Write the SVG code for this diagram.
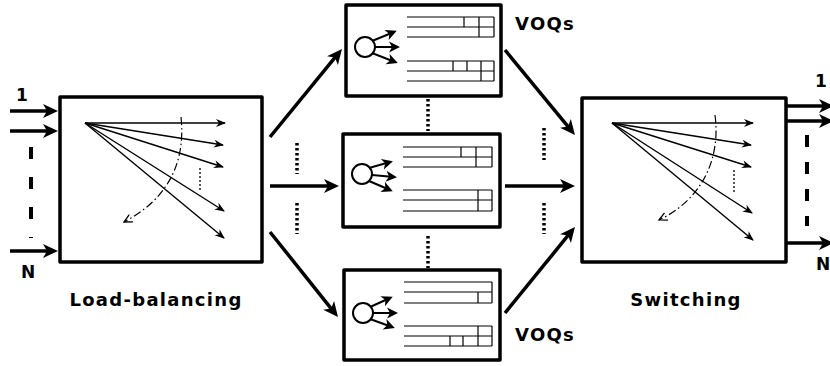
<svg xmlns="http://www.w3.org/2000/svg" width="830" height="366" viewBox="0 0 830 366">
  <style>
    .box { fill: #fff; stroke: #000; stroke-width: 3.5; stroke-linejoin: round; }
    .link { fill: none; stroke: #000; stroke-width: 3.5; }
    .thin { fill: none; stroke: #000; stroke-width: 1.4; }
    .src { fill: none; stroke: #000; stroke-width: 2; }
    .q { fill: none; stroke: #000; stroke-width: 1.2; }
    .dots { fill: none; stroke: #000; stroke-width: 3.5; stroke-dasharray: 2.5 2.5; }
    .dash { fill: none; stroke: #000; stroke-width: 4; }
    .arc { fill: none; stroke: #000; stroke-width: 1.2; stroke-dasharray: 8 3 1.5 3; }
    .fine { fill: none; stroke: #000; stroke-width: 1.3; stroke-dasharray: 2 2; }
    .lbl { font-family: "DejaVu Sans", "Liberation Sans", sans-serif; font-weight: bold; font-size: 18px; letter-spacing: 1.3px; fill: #000; }
    .idx { font-family: "DejaVu Sans", "Liberation Sans", sans-serif; font-weight: bold; font-size: 17px; fill: #000; }
  </style>
  <defs>
    <marker id="big" markerUnits="userSpaceOnUse" markerWidth="30" markerHeight="30" viewBox="-15 -15 30 30" refX="0" refY="0" orient="auto" overflow="visible">
      <path d="M8,0 L-7,-7 L-3,0 L-7,7 Z" fill="#000"/>
    </marker>
    <marker id="small" markerUnits="userSpaceOnUse" markerWidth="20" markerHeight="20" viewBox="-10 -10 20 20" refX="0" refY="0" orient="auto" overflow="visible">
      <path d="M1,0 L-9,-4 L-6,0 L-9,4 Z" fill="#000"/>
    </marker>
    <marker id="open" markerUnits="userSpaceOnUse" markerWidth="20" markerHeight="20" viewBox="-10 -10 20 20" refX="0" refY="0" orient="auto" overflow="visible">
      <path d="M-8,-4 L0,0 L-8,4" fill="none" stroke="#000" stroke-width="1.3"/>
    </marker>
    <marker id="emit" markerUnits="userSpaceOnUse" markerWidth="20" markerHeight="20" viewBox="-10 -10 20 20" refX="0" refY="0" orient="auto" overflow="visible">
      <path d="M3,0 L-8,-5.5 L-5,0 L-8,5.5 Z" fill="#000"/>
    </marker>
  </defs>

  <!-- load-balancing stage -->
  <g id="loadbalancer">
    <rect class="box" x="60" y="97" width="202" height="165"/>
    <g class="thin" marker-end="url(#small)">
      <line x1="85" y1="123" x2="225" y2="123"/>
      <line x1="85" y1="123" x2="223" y2="145"/>
      <line x1="85" y1="123" x2="223" y2="167"/>
      <line x1="85" y1="123" x2="224" y2="211"/>
      <line x1="85" y1="123" x2="224" y2="238"/>
    </g>
    <path class="arc" d="M181,117 C186,165 166,200 124,222" marker-end="url(#open)"/>
    <line class="fine" x1="200" y1="168" x2="200" y2="192"/>
    <text class="lbl" x="156" y="306" text-anchor="middle">Load-balancing</text>
  </g>

  <!-- inputs -->
  <g id="inputs">
    <g class="link" marker-end="url(#big)">
      <line x1="10" y1="111" x2="50" y2="111"/>
      <line x1="10" y1="131" x2="50" y2="131"/>
      <line x1="10" y1="251" x2="50" y2="251"/>
    </g>
    <line class="dash" x1="31" y1="147" x2="31" y2="238" stroke-dasharray="12 18"/>
    <text class="idx" x="22" y="101" text-anchor="middle">1</text>
    <text class="idx" x="28" y="278" text-anchor="middle">N</text>
  </g>

  <!-- VOQ buffer 1 -->
  <g id="voq1">
    <rect class="box" x="346" y="5" width="155" height="91"/>
    <circle class="src" cx="365" cy="47" r="10"/>
    <g class="src" marker-end="url(#emit)">
      <line x1="372" y1="41" x2="394" y2="32"/>
      <line x1="375" y1="47" x2="397" y2="47"/>
      <line x1="372" y1="53" x2="395" y2="62"/>
    </g>
    <path class="q" d="M407,17 H494 M407,27 H494 M407,37 H494 M494,17 V37 M479,17 V37 M464,17 V27"/>
    <path class="q" d="M407,61 H494 M407,71 H494 M407,81 H494 M494,61 V81 M481,61 V81 M467,61 V71 M453,61 V71"/>
  </g>

  <!-- VOQ buffer 2 -->
  <g id="voq2">
    <rect class="box" x="343" y="134" width="157" height="93"/>
    <circle class="src" cx="362" cy="174" r="10"/>
    <g class="src" marker-end="url(#emit)">
      <line x1="369" y1="168" x2="390" y2="162"/>
      <line x1="372" y1="175" x2="394" y2="177"/>
      <line x1="369" y1="181" x2="390" y2="190"/>
    </g>
    <path class="q" d="M403,147 H492 M403,157 H492 M403,167 H492 M492,147 V167 M476,147 V167 M461,147 V157"/>
    <path class="q" d="M403,190 H492 M403,200 H492 M403,211 H492 M492,190 V211 M478,190 V211"/>
  </g>

  <!-- VOQ buffer N -->
  <g id="voq3">
    <rect class="box" x="344" y="270" width="156" height="90"/>
    <circle class="src" cx="363" cy="313" r="10"/>
    <g class="src" marker-end="url(#emit)">
      <line x1="370" y1="307" x2="390" y2="298"/>
      <line x1="373" y1="313" x2="395" y2="313"/>
      <line x1="370" y1="319" x2="392" y2="327"/>
    </g>
    <path class="q" d="M404,282 H492 M404,292 H492 M404,303 H492 M492,282 V303 M478,292 V303"/>
    <path class="q" d="M404,326 H492 M404,336 H492 M404,346 H492 M492,326 V346 M478,326 V346 M463,336 V346 M450,336 V346"/>
  </g>

  <!-- switching stage -->
  <g id="switch">
    <rect class="box" x="582" y="98" width="204" height="164"/>
    <g class="thin" marker-end="url(#small)">
      <line x1="612" y1="123" x2="753" y2="123"/>
      <line x1="612" y1="123" x2="751" y2="145"/>
      <line x1="612" y1="123" x2="751" y2="167"/>
      <line x1="612" y1="123" x2="752" y2="213"/>
      <line x1="612" y1="123" x2="753" y2="240"/>
    </g>
    <path class="arc" d="M715,115 C721,160 701,200 659,220" marker-end="url(#open)"/>
    <line class="fine" x1="734" y1="170" x2="734" y2="193"/>
    <text class="lbl" x="686" y="306" text-anchor="middle">Switching</text>
  </g>

  <!-- outputs -->
  <g id="outputs">
    <g class="link" marker-end="url(#big)">
      <line x1="786" y1="106" x2="826" y2="106"/>
      <line x1="786" y1="121" x2="826" y2="121"/>
      <line x1="786" y1="243" x2="826" y2="243"/>
    </g>
    <line class="dash" x1="807" y1="135" x2="807" y2="226" stroke-dasharray="12 15"/>
    <text class="idx" x="821" y="87" text-anchor="middle">1</text>
    <text class="idx" x="816" y="270">N</text>
  </g>

  <!-- labels for the buffers -->
  <g id="voq-labels">
    <text class="lbl" x="515" y="30">VOQs</text>
    <text class="lbl" x="515" y="341">VOQs</text>
  </g>

  <!-- connectors between stages -->
  <g id="connectors">
    <g class="link" marker-end="url(#big)">
      <line x1="270" y1="137" x2="336.9" y2="55.2"/>
      <line x1="270" y1="186" x2="331" y2="186"/>
      <line x1="270" y1="232" x2="333" y2="310.8"/>
      <line x1="505" y1="50" x2="569.9" y2="128.8"/>
      <line x1="505" y1="186" x2="567" y2="186"/>
      <line x1="505" y1="313" x2="569.9" y2="233.2"/>
    </g>
    <g class="dots">
      <line x1="297" y1="143" x2="297" y2="174"/>
      <line x1="297" y1="203" x2="297" y2="234"/>
      <line x1="544" y1="128" x2="544" y2="160"/>
      <line x1="544" y1="203" x2="544" y2="234"/>
      <line x1="428" y1="99" x2="428" y2="131"/>
      <line x1="428" y1="236" x2="428" y2="268"/>
    </g>
  </g>
</svg>
